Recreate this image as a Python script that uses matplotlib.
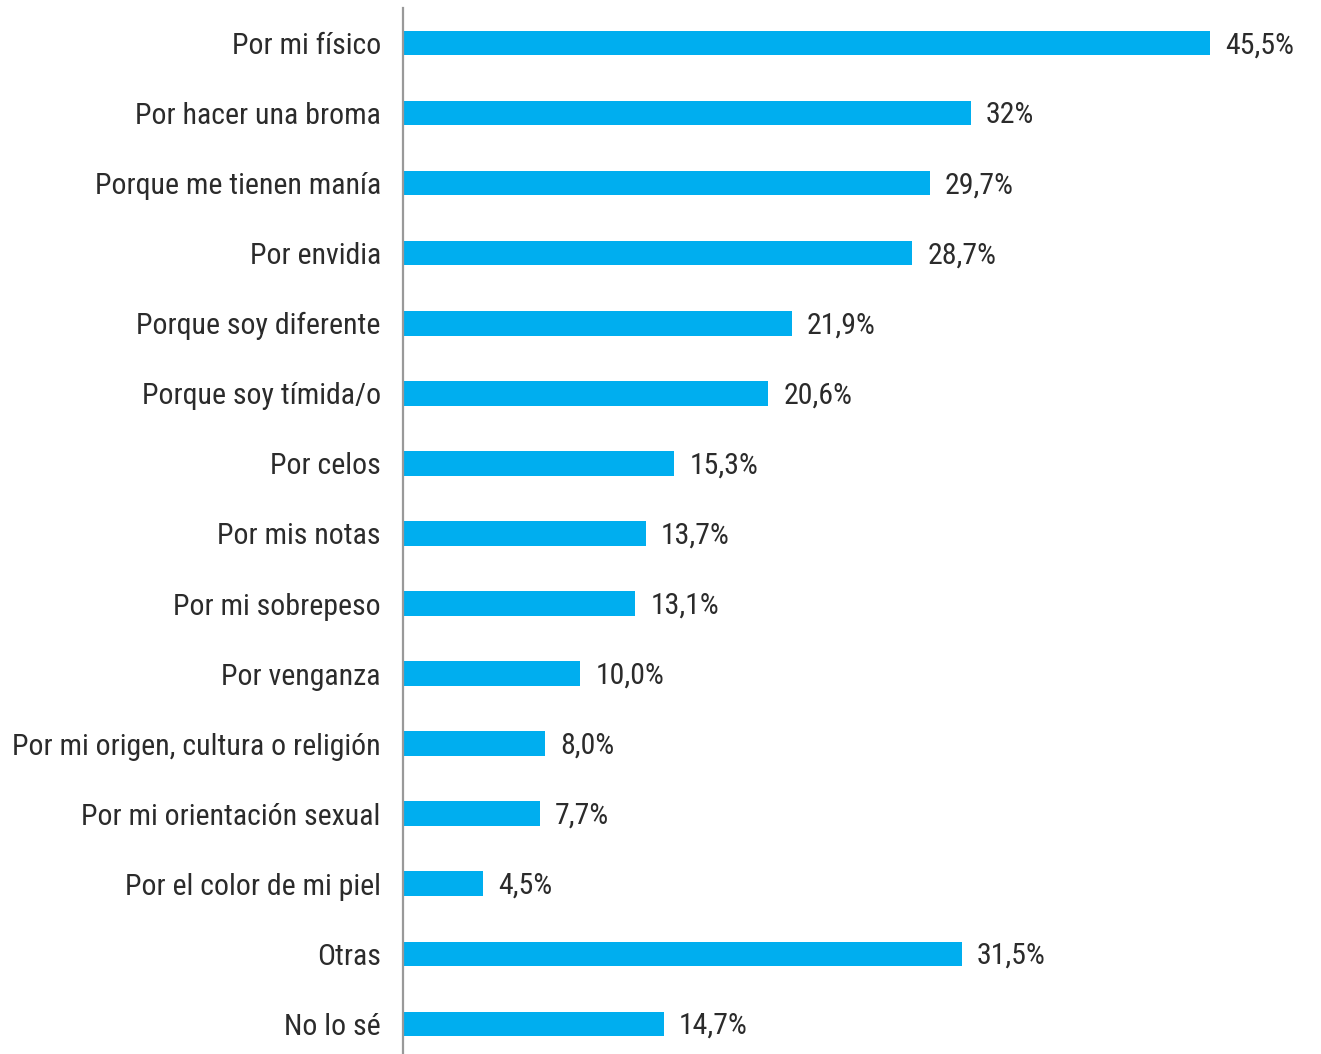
import matplotlib.pyplot as plt
from matplotlib import font_manager

categories = [
    "Por mi físico",
    "Por hacer una broma",
    "Porque me tienen manía",
    "Por envidia",
    "Porque soy diferente",
    "Porque soy tímida/o",
    "Por celos",
    "Por mis notas",
    "Por mi sobrepeso",
    "Por venganza",
    "Por mi origen, cultura o religión",
    "Por mi orientación sexual",
    "Por el color de mi piel",
    "Otras",
    "No lo sé",
]
values = [45.5, 32.0, 29.7, 28.7, 21.9, 20.6, 15.3, 13.7, 13.1, 10.0, 8.0, 7.7, 4.5, 31.5, 14.7]
value_labels = ["45,5%", "32%", "29,7%", "28,7%", "21,9%", "20,6%", "15,3%", "13,7%",
                "13,1%", "10,0%", "8,0%", "7,7%", "4,5%", "31,5%", "14,7%"]

# condensed font if present, else DejaVu Sans condensed
names = {f.name for f in font_manager.fontManager.ttflist}
if "Roboto Condensed" in names:
    font = dict(family=["Roboto Condensed", "DejaVu Sans"], weight=400, size=21.5)
else:
    font = dict(family=["DejaVu Sans"], stretch="condensed", size=18)

bar_color = "#00AEEF"
text_color = "#2b2b2b"

fig = plt.figure(figsize=(13.21, 10.54), dpi=100)
ax = fig.add_axes([403 / 1321, 0, 1 - 403 / 1321, 1 - 8 / 1054])

y = list(range(len(categories)))
ax.barh(y, values, height=0.35, color=bar_color)

for yi, v, lab in zip(y, values, value_labels):
    ax.text(v + 0.85, yi + 0.03, lab, va="center", ha="left", color=text_color, **font)

ax.set_xlim(0, (1321 - 403) / 17.74)
ax.set_ylim(14.43, -0.5)
ax.set_yticks(y)
ax.set_yticklabels(categories, color=text_color, **font)
ax.tick_params(axis="y", length=0, pad=16)
ax.set_xticks([])

for s in ["top", "right", "bottom"]:
    ax.spines[s].set_visible(False)
ax.spines["left"].set_color("#999999")
ax.spines["left"].set_linewidth(1.6)

fig.savefig("out.png", dpi=100)
